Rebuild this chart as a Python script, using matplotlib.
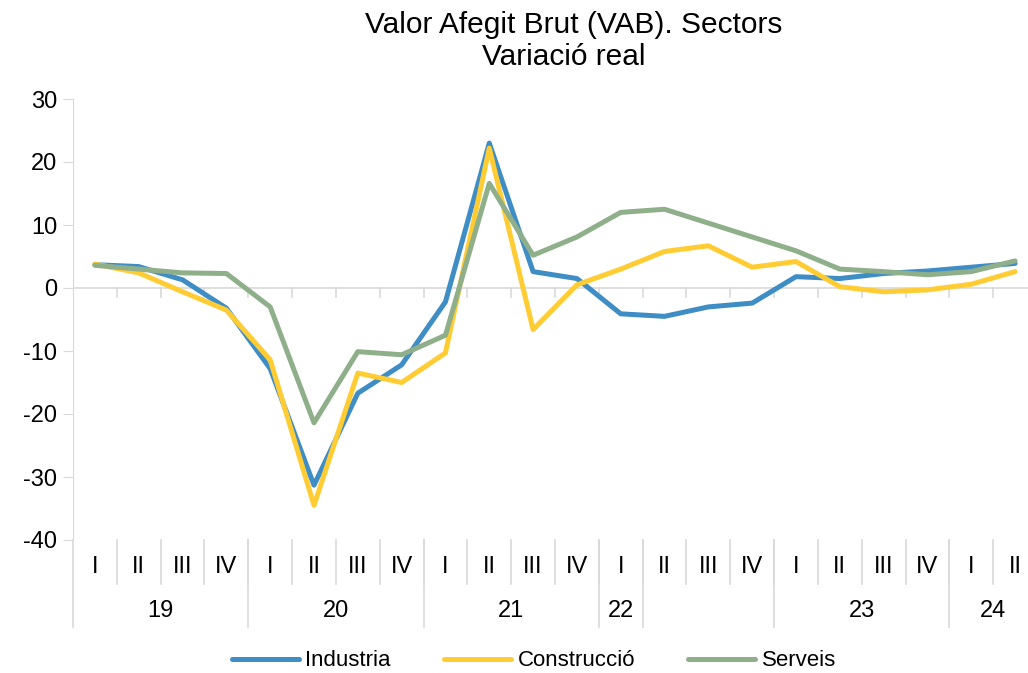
import numpy as np
import matplotlib
matplotlib.use("Agg")
import matplotlib.pyplot as plt

plt.rcParams['font.family'] = ['Liberation Sans', 'DejaVu Sans']
plt.rcParams['axes.unicode_minus'] = False

# Quarterly categories 2019 I - 2024 II
quarters = ['I', 'II', 'III', 'IV'] * 5 + ['I', 'II']
# year groups as (label, first category index, last category index + 1)
years = ['19', '20', '21', '22', '', '23', '24']
year_bounds = [0, 4, 8, 12, 13, 16, 20, 22]

industria = [3.7, 3.4, 1.3, -3.2, -12.8, -31.3, -16.7, -12.2, -2.2, 23.0, 2.6,
             1.5, -4.1, -4.5, -3.0, -2.4, 1.8, 1.5, 2.3, 2.7, 3.3, 3.9]
construccio = [3.8, 2.4, -0.6, -3.5, -11.4, -34.5, -13.5, -15.0, -10.3, 22.2, -6.6,
               0.5, 3.0, 5.8, 6.7, 3.3, 4.2, 0.2, -0.6, -0.3, 0.6, 2.6]
serveis = [3.6, 3.0, 2.4, 2.3, -3.0, -21.4, -10.1, -10.6, -7.5, 16.6, 5.2,
           8.1, 12.0, 12.5, 10.3, 8.1, 5.9, 3.0, 2.6, 2.1, 2.6, 4.3]

series = [('Industria', industria, '#3F8DC5'),
          ('Construcció', construccio, '#FFCC33'),
          ('Serveis', serveis, '#8FAF8A')]

grid_col = '#D9D9D9'

fig = plt.figure(figsize=(10.28, 6.73), dpi=100)
ax = fig.add_axes([73 / 1028, 1 - 540 / 673, 964 / 1028, 441 / 673])

x = np.arange(len(quarters))
for name, vals, col in series:
    ax.plot(x, vals, color=col, lw=3.6, label=name, solid_joinstyle='round',
            solid_capstyle='round')

ax.set_xlim(-0.5, len(quarters) - 0.5)
ax.set_ylim(-40, 30)
ax.set_yticks(np.arange(-40, 31, 10))
ax.tick_params(axis='y', labelsize=17, length=7.2, color=grid_col, pad=4)
ax.set_xticks([])

for s in ['top', 'right', 'bottom']:
    ax.spines[s].set_visible(False)
ax.spines['left'].set_color(grid_col)

# horizontal axis crossing at zero with small tick marks
ax.axhline(0, color=grid_col, lw=1.2, zorder=0)
xt = ax.get_xaxis_transform()
for b in np.arange(1, len(quarters)):
    ax.plot([b - 0.5, b - 0.5], [0.5714, 0.5714 - 0.02], color=grid_col, lw=1.2,
            transform=xt, clip_on=False, zorder=0)

# category labels at the bottom
for i, q in enumerate(quarters):
    ax.text(i, -0.062, q, transform=xt, ha='center', va='center', fontsize=17)
    if i > 0:
        ax.plot([i - 0.5, i - 0.5], [0, -0.1], color=grid_col, lw=1.2,
                transform=xt, clip_on=False)

for j, lab in enumerate(years):
    a, b = year_bounds[j], year_bounds[j + 1]
    ax.text((a + b) / 2 - 0.5, -0.16, lab, transform=xt, ha='center', va='center', fontsize=17)
for b in year_bounds:
    ax.plot([b - 0.5, b - 0.5], [0, -0.197], color=grid_col, lw=1.2,
            transform=xt, clip_on=False)

fig.text(574 / 1028, 1 - 25 / 673, 'Valor Afegit Brut (VAB). Sectors', ha='center', va='center', fontsize=21.5)
fig.text(564 / 1028, 1 - 57 / 673, 'Variació real', ha='center', va='center', fontsize=21.5)

fig.legend(loc='center', bbox_to_anchor=(534 / 1028, 1 - 661 / 673), ncol=3, frameon=False,
           fontsize=16, handlelength=3.0, handletextpad=0.3, columnspacing=2.4)

fig.savefig('out.png', dpi=100)
